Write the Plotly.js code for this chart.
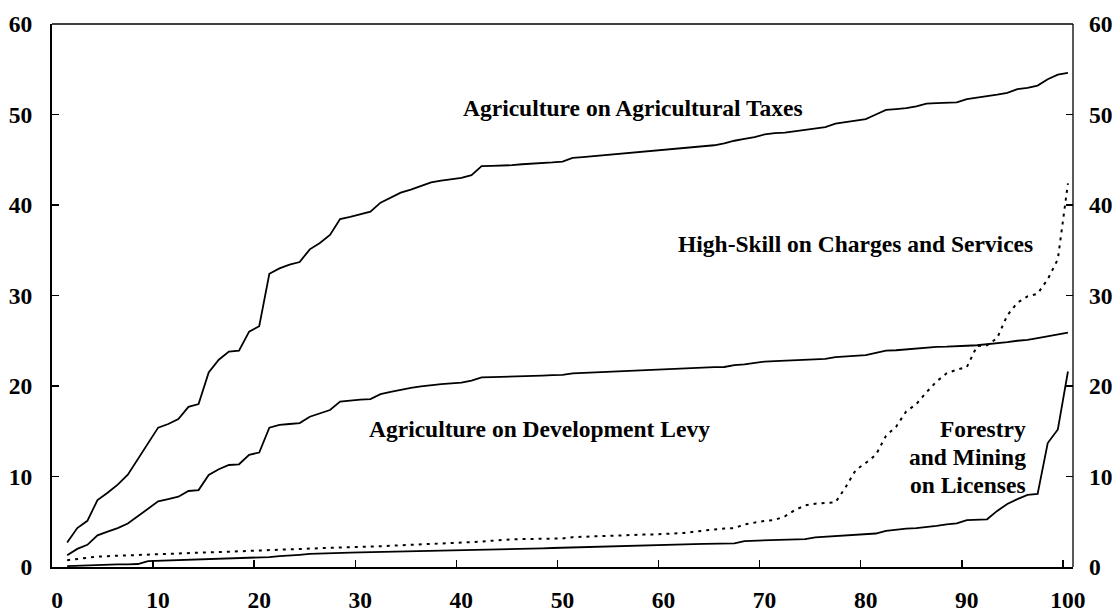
<!DOCTYPE html>
<html>
<head>
<meta charset="utf-8">
<script src="https://cdn.plot.ly/plotly-3.0.1.min.js"></script>
<style>
html,body{margin:0;padding:0;background:#fff;}
#chart{width:1118px;height:614px;}
</style>
</head>
<body>
<div id="chart"></div>
<script>
// Rank (percentile) positions
const ranks = Array.from({length: 100}, (_, i) => i + 1);

// Agriculture on Agricultural Taxes
const agriTaxes = [
  2.7, 4.3, 5.1, 7.4, 8.2, 9.1, 10.2, 11.9, 13.7, 15.4,
  15.8, 16.35, 17.7, 18.0, 21.5, 22.9, 23.8, 23.9, 26.0, 26.6,
  32.4, 33.0, 33.4, 33.7, 35.1, 35.8, 36.7, 38.45, 38.7, 39.0,
  39.26, 40.26, 40.8, 41.36, 41.7, 42.1, 42.5, 42.7, 42.85, 43.0,
  43.3, 44.3, 44.32, 44.35, 44.4, 44.5, 44.55, 44.6, 44.7, 44.8,
  45.2, 45.3, 45.4, 45.5, 45.6, 45.7, 45.85, 45.9, 46.0, 46.1,
  46.2, 46.3, 46.44, 46.5, 46.6, 46.8, 47.1, 47.3, 47.5, 47.8,
  47.95, 48.0, 48.15, 48.3, 48.45, 48.6, 49.0, 49.15, 49.3, 49.5,
  50.0, 50.5, 50.6, 50.7, 50.9, 51.2, 51.25, 51.3, 51.35, 51.7,
  51.85, 52.0, 52.2, 52.4, 52.8, 52.95, 53.2, 53.9, 54.4, 54.6
];

// Agriculture on Development Levy
const agriLevy = [
  1.3, 2.0, 2.45, 3.5, 3.9, 4.3, 4.8, 5.6, 6.5, 7.25,
  7.5, 7.77, 8.4, 8.5, 10.17, 10.8, 11.27, 11.35, 12.4, 12.65,
  15.4, 15.7, 15.8, 15.9, 16.6, 17.0, 17.35, 18.27, 18.4, 18.5,
  18.56, 19.1, 19.35, 19.6, 19.8, 19.95, 20.1, 20.2, 20.3, 20.37,
  20.6, 20.96, 20.98, 21.0, 21.05, 21.08, 21.1, 21.15, 21.2, 21.22,
  21.4, 21.45, 21.5, 21.55, 21.6, 21.66, 21.72, 21.78, 21.84, 21.88,
  21.9, 21.95, 22.0, 22.05, 22.08, 22.1, 22.3, 22.4, 22.55, 22.7,
  22.75, 22.8, 22.85, 22.9, 22.95, 23.0, 23.2, 23.25, 23.3, 23.4,
  23.65, 23.9, 23.95, 24.05, 24.15, 24.3, 24.32, 24.34, 24.36, 24.45,
  24.5, 24.6, 24.7, 24.85, 25.0, 25.1, 25.3, 25.5, 25.75, 25.9
];

// High-Skill on Charges and Services (dotted)
const highSkill = [
  0.75, 0.9, 1.05, 1.15, 1.2, 1.25, 1.3, 1.32, 1.35, 1.4,
  1.45, 1.5, 1.55, 1.6, 1.62, 1.65, 1.7, 1.73, 1.77, 1.82,
  1.88, 1.95, 2.0, 2.05, 2.08, 2.1, 2.12, 2.15, 2.17, 2.2,
  2.25, 2.3, 2.35, 2.4, 2.45, 2.48, 2.5, 2.55, 2.65, 2.7,
  2.75, 2.8, 2.9, 3.0, 3.06, 3.08, 3.1, 3.12, 3.13, 3.15,
  3.3, 3.35, 3.4, 3.45, 3.5, 3.54, 3.56, 3.58, 3.6, 3.65,
  3.7, 3.75, 3.9, 4.05, 4.15, 4.25, 4.3, 4.7, 4.9, 5.1,
  5.2, 5.6, 6.3, 6.8, 7.0, 7.05, 7.15, 8.8, 10.7, 11.5,
  12.4, 14.5, 15.5, 17.2, 18.0, 19.3, 20.5, 21.4, 21.8, 22.1,
  24.4, 24.5, 25.3, 27.8, 29.2, 29.9, 30.2, 31.8, 34.0, 42.4
];

// Forestry and Mining on Licenses
const forestryLicenses = [
  0.1, 0.15, 0.2, 0.22, 0.25, 0.28, 0.3, 0.33, 0.66, 0.7,
  0.72, 0.74, 0.76, 0.78, 0.82, 0.86, 0.9, 0.95, 1.0, 1.05,
  1.1, 1.2, 1.25, 1.35, 1.45, 1.5, 1.52, 1.55, 1.58, 1.62,
  1.64, 1.66, 1.68, 1.7, 1.73, 1.76, 1.8, 1.83, 1.86, 1.88,
  1.9, 1.92, 1.94, 1.96, 1.98, 2.0, 2.03, 2.06, 2.1, 2.13,
  2.24, 2.26, 2.28, 2.3, 2.33, 2.36, 2.38, 2.41, 2.44, 2.47,
  2.49, 2.51, 2.53, 2.55, 2.57, 2.6, 2.62, 2.87, 2.9, 2.93,
  2.96, 3.0, 3.04, 3.09, 3.28, 3.35, 3.45, 3.5, 3.55, 3.6,
  3.7, 4.0, 4.15, 4.25, 4.3, 4.4, 4.55, 4.71, 4.83, 5.19,
  5.23, 5.27, 6.2, 6.96, 7.5, 7.96, 8.07, 13.7, 15.2, 21.6
];

const xTickLabels = [0, 10, 20, 30, 40, 50, 60, 70, 80, 90, 100];
const yTickLabels = [0, 10, 20, 30, 40, 50, 60];

const FONT = {family: 'Liberation Serif, Times New Roman, serif', size: 23.5, color: '#000', weight: 700};

const solid = {color: '#000', width: 1.8};
const traces = [
  {x: ranks, y: agriTaxes, type: 'scatter', mode: 'lines', line: solid, name: 'Agriculture on Agricultural Taxes'},
  {x: ranks, y: agriLevy, type: 'scatter', mode: 'lines', line: solid, name: 'Agriculture on Development Levy'},
  {x: ranks, y: highSkill, type: 'scatter', mode: 'lines', line: {color: '#000', width: 2, dash: '3px,5px'}, name: 'High-Skill on Charges and Services'},
  {x: ranks, y: forestryLicenses, type: 'scatter', mode: 'lines', line: solid, name: 'Forestry and Mining on Licenses'}
];

const yAxisCommon = {
  range: [0, 60],
  tickvals: yTickLabels,
  ticktext: yTickLabels.map(String),
  ticks: 'inside', ticklen: 7, tickwidth: 1.5, tickcolor: '#000',
  showgrid: false, zeroline: false,
  tickfont: FONT,
  fixedrange: true
};

const layout = {
  width: 1118, height: 614,
  margin: {l: 51.5, r: 45, t: 24, b: 47, pad: 0},
  paper_bgcolor: '#fff', plot_bgcolor: '#fff',
  showlegend: false,
  font: FONT,
  xaxis: {
    range: [-0.5, 100.5],
    tickvals: xTickLabels.map(v => v - 0.5),
    ticktext: xTickLabels.map(String),
    ticklabelshift: 5,
    ticklabelstandoff: 11,
    ticks: 'inside', ticklen: 7, tickwidth: 1.5, tickcolor: '#000',
    showline: true, linecolor: '#000', linewidth: 2,
    showgrid: false, zeroline: false,
    tickfont: FONT
  },
  yaxis: Object.assign({}, yAxisCommon, {
    showline: true, linecolor: '#000', linewidth: 2,
    ticklabelstandoff: 13
  }),
  yaxis2: Object.assign({}, yAxisCommon, {
    overlaying: 'y', side: 'right', showline: false,
    ticklabelstandoff: 15
  }),
  shapes: [
    {type: 'line', xref: 'paper', yref: 'paper', x0: 0, x1: 1, y0: 1, y1: 1, line: {color: '#000', width: 1.3}},
    {type: 'line', xref: 'paper', yref: 'paper', x0: 1, x1: 1, y0: 0, y1: 1, line: {color: '#000', width: 1.3}}
  ],
  annotations: [
    {text: 'Agriculture on Agricultural Taxes', x: 56.96, y: 50.75, xref: 'x', yref: 'y', showarrow: false, font: FONT},
    {text: 'High-Skill on Charges and Services', x: 78.94, y: 35.7, xref: 'x', yref: 'y', showarrow: false, font: FONT},
    {text: 'Agriculture on Development Levy', x: 47.7, y: 15.3, xref: 'x', yref: 'y', showarrow: false, font: FONT},
    {text: 'Forestry', x: 96.0, y: 15.3, xref: 'x', yref: 'y', xanchor: 'right', showarrow: false, font: FONT},
    {text: 'and Mining', x: 96.0, y: 12.19, xref: 'x', yref: 'y', xanchor: 'right', showarrow: false, font: FONT},
    {text: 'on Licenses', x: 96.0, y: 9.06, xref: 'x', yref: 'y', xanchor: 'right', showarrow: false, font: FONT}
  ]
};

// attach an invisible reference so the right axis is drawn
traces.push({x: [ranks[0]], y: [agriTaxes[0]], yaxis: 'y2', type: 'scatter', mode: 'lines', hoverinfo: 'skip', showlegend: false, line: {width: 0}});

Plotly.newPlot('chart', traces, layout, {displayModeBar: false, staticPlot: true});
</script>
</body>
</html>
